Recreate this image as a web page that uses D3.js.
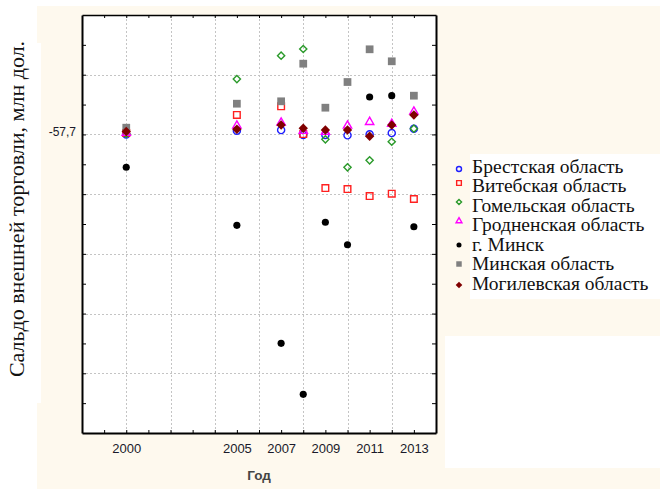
<!DOCTYPE html>
<html>
<head>
<meta charset="utf-8">
<script src="https://cdn.jsdelivr.net/npm/d3@7"></script>
<style>
  html, body { margin: 0; padding: 0; background: #ffffff; }
  svg { display: block; }
</style>
</head>
<body>
<script>
// Years on the x axis
const years = [2000, 2005, 2007, 2008, 2009, 2010, 2011, 2012, 2013];
const xTickLabels = [2000, 2005, 2007, 2009, 2011, 2013];

// Trade balance by region, mln USD
const brest     = [-59, 5, 16, -67, -67, -72, -56, -34, 38];
const vitebsk   = [-34, 268, 413, -51, -955, -972, -1089, -1050, -1139];
const gomel     = [-50, 870, 1261, 1373, -139, -608, -491, -180, 38];
const grodno    = [-34, 88, 139, 0, -17, 88, 150, 117, 323];
const minskCity = [-608, -1580, -3556, -4410, -1529, -1905, 569, 591, -1603];
const minskObl  = [55, 457, 497, 1127, 390, 820, 1368, 1167, 591];
const mogilev   = [-9, 28, 100, 45, 16, 16, -89, 100, 268];

const seriesNames = ["Брестская область", "Витебская область", "Гомельская область",
  "Гродненская область", "г. Минск", "Минская область", "Могилевская область"];

const yLabelValue = -57.7;
const yStep = 500;

const W = 660, H = 489;
const svg = d3.select("body").append("svg").attr("width", W).attr("height", H);

// Panel backgrounds
svg.append("rect").attr("x", 0).attr("y", 0).attr("width", W).attr("height", H).attr("fill", "#ffffff");
svg.append("rect").attr("x", 37).attr("y", 6).attr("width", W - 37).attr("height", H - 6).attr("fill", "#fef9ee");
svg.append("rect").attr("x", 0).attr("y", 43).attr("width", 41).attr("height", 360).attr("fill", "#ffffff");
svg.append("rect").attr("x", 470).attr("y", 154).attr("width", W - 470).attr("height", 145).attr("fill", "#ffffff");
svg.append("rect").attr("x", 445).attr("y", 336).attr("width", W - 445).attr("height", 132).attr("fill", "#ffffff");

const plot = { left: 82, right: 436, top: 15, bottom: 433 };

const x = d3.scaleLinear().domain([1998, 2014]).range([plot.left, plot.right]);
const y = d3.scaleLinear().domain([yLabelValue - 5000, yLabelValue + 2000]).range([plot.bottom, plot.top]);

svg.append("rect").attr("x", plot.left).attr("y", plot.top)
  .attr("width", plot.right - plot.left).attr("height", plot.bottom - plot.top).attr("fill", "#ffffff");

// Grid
const gridX = d3.range(2000, 2013, 2);
const yTicks = d3.range(0, 15).map(i => y.domain()[0] + i * yStep);
const gridY = yTicks.filter((d, i) => i % 2 === 0 && i > 0 && i < 14);

const grid = svg.append("g").attr("stroke", "#c4c4c4").attr("stroke-width", 1).attr("stroke-dasharray", "2,2");
grid.selectAll("line.gx").data(gridX).join("line")
  .attr("x1", d => Math.round(x(d)) + 0.5).attr("x2", d => Math.round(x(d)) + 0.5)
  .attr("y1", plot.top).attr("y2", plot.bottom);
grid.selectAll("line.gy").data(gridY).join("line")
  .attr("y1", d => Math.round(y(d)) + 0.5).attr("y2", d => Math.round(y(d)) + 0.5)
  .attr("x1", plot.left).attr("x2", plot.right);

// Axes with inward ticks
const xTicks = d3.range(1999, 2014);
const fmtY = v => Math.abs(v - yLabelValue) < 1e-6
  ? (v < 0 ? "-" : "") + Math.abs(v).toFixed(1).replace(".", ",")
  : "";

const axB = svg.append("g").attr("transform", `translate(0,${plot.bottom})`)
  .call(d3.axisBottom(x).tickValues(xTicks).tickSizeInner(-3).tickSizeOuter(0)
    .tickFormat(d => xTickLabels.includes(d) ? String(d) : ""));
const axT = svg.append("g").attr("transform", `translate(0,${plot.top})`)
  .call(d3.axisTop(x).tickValues(xTicks).tickSizeInner(-3).tickSizeOuter(0).tickFormat(""));
const axL = svg.append("g").attr("transform", `translate(${plot.left},0)`)
  .call(d3.axisLeft(y).tickValues(yTicks.slice(1, 14)).tickSizeInner(-4).tickSizeOuter(0)
    .tickPadding(8).tickFormat(fmtY));
const axR = svg.append("g").attr("transform", `translate(${plot.right},0)`)
  .call(d3.axisRight(y).tickValues(yTicks.slice(1, 14)).tickSizeInner(-4).tickSizeOuter(0).tickFormat(""));

[axB, axT, axL, axR].forEach(a => {
  a.select(".domain").attr("stroke", "#000").attr("stroke-width", 2);
  a.selectAll(".tick line").attr("stroke", "#000").attr("stroke-width", 1);
});
axT.select(".domain").attr("stroke-width", 1.5);
axB.selectAll(".tick text").attr("font-family", "Liberation Sans, Arial, sans-serif")
  .attr("font-size", 13).attr("fill", "#1a1a2a").attr("dy", "1.3em");
axL.selectAll(".tick text").attr("font-family", "Liberation Sans, Arial, sans-serif")
  .attr("font-size", 12).attr("fill", "#1a1a2a").attr("x", -6).attr("dy", "0.1em");

// Axis titles
svg.append("text").attr("x", (plot.left + plot.right) / 2).attr("y", 480)
  .attr("text-anchor", "middle").attr("font-family", "Liberation Sans, Arial, sans-serif")
  .attr("font-size", 13.5).attr("font-weight", "bold").attr("fill", "#444").text("Год");
svg.append("text").attr("transform", "translate(24,209) rotate(-90)")
  .attr("text-anchor", "middle").attr("font-family", "Liberation Serif, Times New Roman, serif")
  .attr("font-size", 22).attr("fill", "#111").text("Сальдо внешней торговли, млн дол.");

// Marker shapes: rhombus is a square turned by 45 degrees
const rhombus = {
  draw(ctx, size) {
    const r = Math.sqrt(size) / Math.SQRT2;
    ctx.moveTo(0, -r); ctx.lineTo(r, 0); ctx.lineTo(0, r); ctx.lineTo(-r, 0); ctx.closePath();
  }
};
const sym = {
  circle: d3.symbol().type(d3.symbolCircle),
  square: d3.symbol().type(d3.symbolSquare),
  rhombus: d3.symbol().type(rhombus),
  triangle: d3.symbol().type(d3.symbolTriangle)
};
const series = [
  { values: brest,     shape: "circle",   size: 40, fill: "none",    stroke: "#1f1fff" },
  { values: vitebsk,   shape: "square",   size: 44, fill: "none",    stroke: "#ff2020" },
  { values: gomel,     shape: "rhombus",  size: 26, fill: "none",    stroke: "#2a9a2a" },
  { values: grodno,    shape: "triangle", size: 30, fill: "none",    stroke: "#ff00ff" },
  { values: minskCity, shape: "circle",   size: 40, fill: "#000000", stroke: "none" },
  { values: minskObl,  shape: "square",   size: 60, fill: "#808080", stroke: "none" },
  { values: mogilev,   shape: "rhombus",  size: 44, fill: "#800000", stroke: "none" }
];

series.forEach(s => {
  svg.append("g").selectAll("path").data(s.values.map((v, i) => [years[i], v])).join("path")
    .attr("transform", d => `translate(${x(d[0])},${y(d[1])})`)
    .attr("d", sym[s.shape].size(s.size)())
    .attr("fill", s.fill).attr("stroke", s.stroke).attr("stroke-width", 1.4);
});

// Legend
const legendRows = [166, 185.5, 205, 224.5, 244, 263.5, 283];
const markerRows = [169, 183, 202, 221, 245, 264, 285];
const lg = svg.append("g");
series.forEach((s, i) => {
  lg.append("path").attr("transform", `translate(459,${markerRows[i]})`)
    .attr("d", sym[s.shape].size(s.size * 0.5)())
    .attr("fill", s.fill).attr("stroke", s.stroke).attr("stroke-width", 1.4);
  lg.append("text").attr("x", 472).attr("y", legendRows[i]).attr("dy", "0.35em")
    .attr("font-family", "Liberation Serif, Times New Roman, serif").attr("font-size", 19.5)
    .attr("fill", "#111").text(seriesNames[i]);
});
</script>
</body>
</html>
